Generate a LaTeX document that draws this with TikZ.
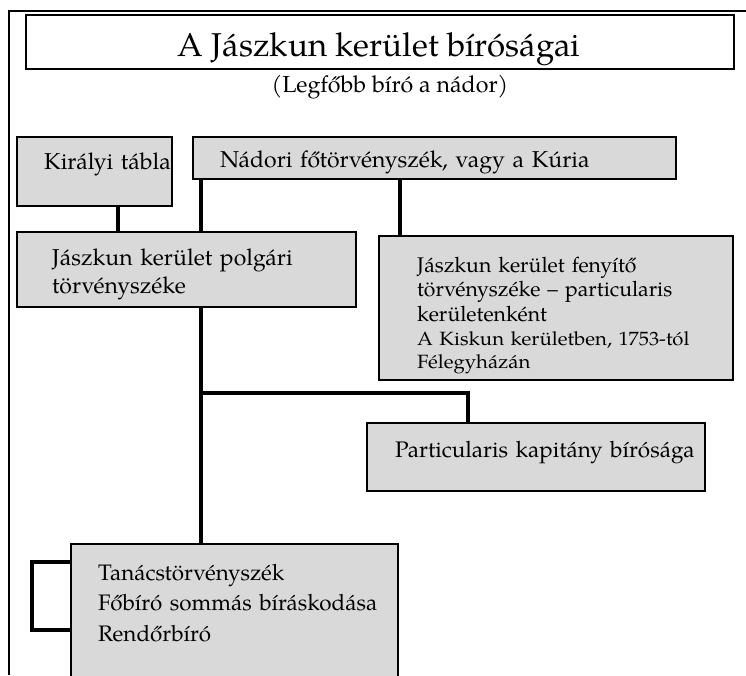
\documentclass[tikz,border=0pt]{standalone}
\usepackage{fontspec}
\setmainfont{TeX Gyre Pagella}
\newfontfamily\widefont{TeX Gyre Pagella}[FakeStretch=1.06]
\definecolor{boxgray}{RGB}{217,217,217}
\begin{document}
\begin{tikzpicture}[x=1pt,y=-1pt,
  box/.style={draw=black, fill=boxgray, line width=1.3pt, anchor=north west, inner sep=0pt, outer sep=0pt},
  conn/.style={line width=3.2pt, draw=black},
  frame/.style={line width=1.3pt, draw=black},
  txt/.style={anchor=base west, inner sep=0pt, align=left, text width=360pt, font=\fontsize{23}{28}\selectfont},
]
\useasboundingbox (0,0) rectangle (746,675);
\clip (0,0) rectangle (746,675);

% outer frame
\draw[frame] (9,675) -- (9,11) -- (746,11);

% title
\node[draw=black, line width=1.6pt, fill=white, minimum width=708pt, minimum height=54pt, anchor=north west, inner sep=0pt] (tbox) at (25,14) {};
\node[anchor=base, inner sep=0pt, font=\fontsize{33}{40}\selectfont] (title) at (379,56) {A Jászkun kerület bíróságai};
\node[anchor=base, inner sep=0pt, font=\fontsize{23.2}{25}\selectfont] (sub) at (390,92) {(Legfőbb bíró a nádor)};

% boxes
\node[box, minimum width=155pt, minimum height=69pt] (kir) at (17,137) {};
\node[box, minimum width=483pt, minimum height=42pt] (nad) at (193,137) {};
\node[box, minimum width=339pt, minimum height=75pt] (pol) at (17,232) {};
\node[box, minimum width=354pt, minimum height=144pt] (fen) at (379,236) {};
\node[box, minimum width=338pt, minimum height=68pt] (par) at (367,423) {};
\node[box, minimum width=327pt, minimum height=160pt] (tan) at (71,544) {};

% texts
\node[txt] (kirT) at (44,169) {Királyi tábla};
\node[txt, text width=460pt] (nadT) at (220,167) {Nádori főtörvényszék, vagy a Kúria};
\node[txt] (polT) at (52,265) {Jászkun kerület polgári\\törvényszéke};
\node[txt, font=\fontsize{21.2}{24.5}\selectfont] (fenT) at (417,272) {Jászkun kerület fenyítő\\törvényszéke – particularis\\kerületenként};
\node[txt, font=\widefont\fontsize{19.2}{23}\selectfont] (fenT2) at (417,345) {A Kiskun kerületben, 1753-tól\\Félegyházán};
\node[txt, font=\fontsize{22.5}{28}\selectfont] (parT) at (395,457) {Particularis kapitány bírósága};
\node[txt, font=\fontsize{22.4}{30.5}\selectfont] (tanT) at (98,580) {Tanácstörvényszék\\Főbíró sommás bíráskodása\\Rendőrbíró};

% connectors
\draw[conn] (kir.south -| 118,0) -- (pol.north -| 118,0);
\draw[conn] (nad.south -| 201,0) -- (pol.north -| 201,0);
\draw[conn] (nad.south -| 400,0) -- (fen.north -| 400,0);
\draw[conn] (pol.south -| 201,0) -- (tan.north -| 201,0);
\coordinate (br) at (201,393);
\draw[conn] (br) -| (par.north -| 468,0);
\draw[conn] (tan.west |- 0,562) -- (32,562) -- (32,630) -- (tan.west |- 0,630);
\end{tikzpicture}
\end{document}
